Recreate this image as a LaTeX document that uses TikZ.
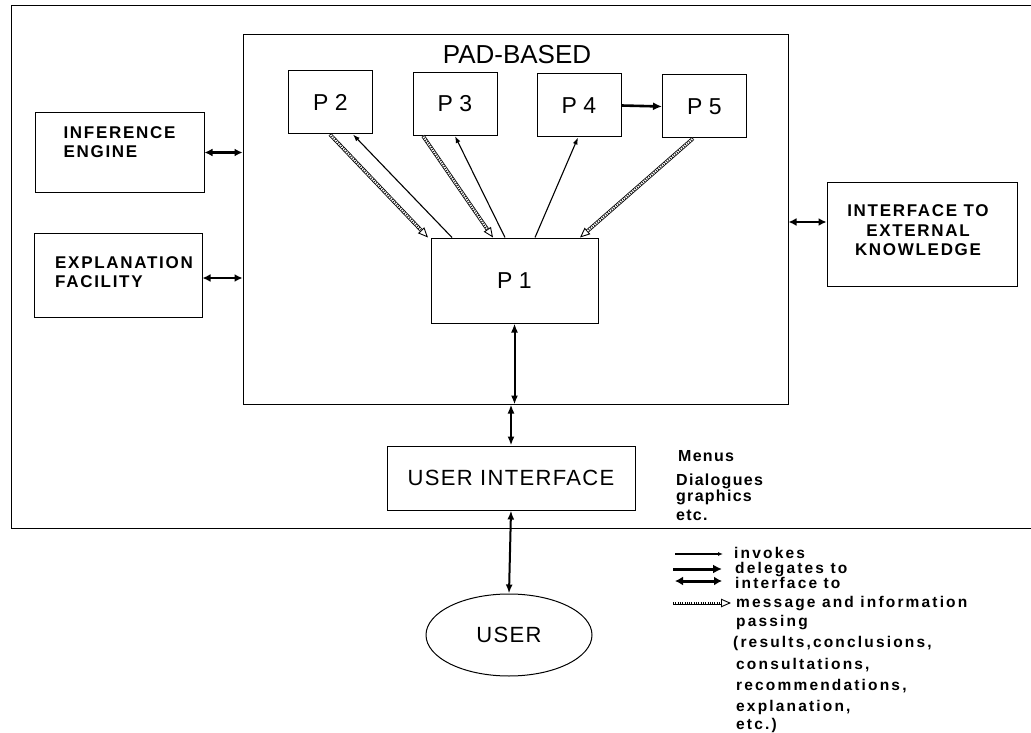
\documentclass[tikz,border=0pt]{standalone}
\usepackage{fontspec}
\setmainfont{Liberation Sans}
\newfontfamily\widefont{Liberation Sans}[LetterSpace=10]
\newfontfamily\legfont{Liberation Sans}[LetterSpace=14]
\newfontfamily\notefont{Liberation Sans}[LetterSpace=8]
\newfontfamily\boxfont{Liberation Sans}[LetterSpace=6]
\newfontfamily\pfont{Liberation Sans}[LetterSpace=28]
\usetikzlibrary{arrows.meta,shapes.geometric}

\begin{document}
\begin{tikzpicture}[x=1pt,y=-1pt,
  box/.style={draw,line width=1pt,inner sep=0pt,rectangle},
  pbox/.style={box,minimum width=84pt,minimum height=63pt,font=\pfont\fontsize{23}{26}\selectfont},
  caps/.style={inner sep=0pt,align=left,font=\widefont\bfseries\fontsize{17}{19}\selectfont},
  note/.style={inner sep=0pt,anchor=base west,font=\notefont\bfseries\fontsize{16}{18}\selectfont},
  leg/.style={inner sep=0pt,anchor=base west,font=\legfont\bfseries\fontsize{15.5}{18}\selectfont},
  frame/.style={line width=1pt},
  inv/.style={line width=1.1pt,-{Latex[length=7pt,width=5pt]}},
  del/.style={line width=2.6pt,-{Latex[length=9pt,width=8pt]}},
  ifc/.style={line width=2.4pt,{Latex[length=8pt,width=8pt]}-{Latex[length=8pt,width=8pt]}},
  vio/.style={line width=2pt,{Latex[length=9pt,width=7pt]}-{Latex[length=9pt,width=7pt]}},
  msg/.style={line width=3.6pt,-{Triangle[open,length=10pt,width=8.5pt,line width=0.9pt]},
    postaction={draw=white,line width=2pt,-,shorten >=10pt},
    postaction={draw=black,line width=2pt,-,dash pattern=on 0.7pt off 1.6pt,shorten >=10pt}}
]
\useasboundingbox (0,0) rectangle (1031,733);

% open outer frame
\coordinate (ftr) at (1031,6);
\coordinate (ftl) at (11,6);
\coordinate (fbl) at (11,528);
\coordinate (fbr) at (1031,528);
\draw[frame] (ftr) -- (ftl) -- (fbl) -- (fbr);

% PAD-based block
\node[box,minimum width=545pt,minimum height=369pt] (pad) at (515.5,219.5) {};
\node[inner sep=0pt,font=\fontsize{26}{30}\selectfont] (padlab) at (517,55) {PAD-BASED};

\node[pbox] (p2) at (330.5,102.5) {P2};
\node[pbox] (p3) at (455,104) {P3};
\node[pbox] (p4) at (579,105.5) {P4};
\node[pbox] (p5) at (704.5,106.5) {P5};
\node[box,minimum width=167pt,minimum height=85pt,font=\pfont\fontsize{23}{26}\selectfont] (p1) at (514.5,280.5) {P1};

% side modules
\node[box,minimum width=169pt,minimum height=79pt] (ie) at (119.5,152.5) {};
\node[caps] (ielab) at (119.5,142.5) {INFERENCE\\ENGINE};
\node[box,minimum width=168pt,minimum height=84pt] (ef) at (118,275) {};
\node[caps] (eflab) at (124,272.5) {EXPLANATION\\FACILITY};
\node[box,minimum width=190pt,minimum height=104pt] (ext) at (922,234) {};
\node[caps,align=center,font=\widefont\bfseries\fontsize{17}{19.5}\selectfont] (extlab) at (918,230.5)
  {INTERFACE TO\\EXTERNAL\\KNOWLEDGE};

% user side
\node[box,minimum width=248pt,minimum height=64pt,font=\boxfont\fontsize{22}{25}\selectfont] (ui) at (511,478) {USER INTERFACE};
\node[draw,ellipse,line width=1pt,inner sep=0pt,minimum width=166pt,minimum height=82pt,
      font=\boxfont\fontsize{22}{25}\selectfont] (user) at (509,635) {USER};

\node[note] (m1) at (678,461) {Menus};
\node[note] (m2) at (676,485) {Dialogues};
\node[note] (m3) at (676,501) {graphics};
\node[note] (m4) at (676,520) {etc.};

% links inside the PAD block
\draw[msg] ([xshift=-0.5pt]p2.south) -- ([xshift=-86.5pt]p1.north);
\draw[inv] ([xshift=-62.5pt]p1.north) -- ([xshift=22.5pt]p2.south);
\draw[msg] ([xshift=-32pt]p3.south) -- ([xshift=-21.5pt]p1.north);
\draw[inv] ([xshift=-9.5pt]p1.north) -- (p3.south);
\draw[inv] ([xshift=20.5pt]p1.north) -- ([xshift=-1pt]p4.south);
\draw[msg] ([xshift=-11.5pt]p5.south) -- ([xshift=65.5pt]p1.north);
\draw[del] (p4.east) -- (p5.west);

% interfaces
\draw[ifc] (ie.east) -- (ie.east -| pad.west);
\coordinate (efin) at ([yshift=-3pt]ef.east);
\draw[ifc] (efin) -- (efin -| pad.west);
\coordinate (extin) at ([yshift=12pt]ext.west);
\draw[ifc] (extin -| pad.east) -- (extin);
\draw[vio] (p1.south) -- (p1.south |- pad.south);
\draw[vio] (pad.south -| ui.north) -- (ui.north);
\draw[vio] (ui.south) -- (user.north);

% legend
\coordinate (la1) at (675,554); \coordinate (lb1) at (723,554);
\coordinate (la2) at (673,569); \coordinate (lb2) at (722,569);
\coordinate (la3) at (675,581); \coordinate (lb3) at (722,581);
\coordinate (la4) at (673,603); \coordinate (lb4) at (731,603);
\draw[line width=1.1pt,-{Latex[length=5pt,width=4pt]}] (la1) -- (lb1);
\draw[line width=3pt,-{Latex[length=9pt,width=9pt]}] (la2) -- (lb2);
\draw[line width=3pt,{Latex[length=8pt,width=9pt]}-{Latex[length=8pt,width=9pt]}] (la3) -- (lb3);
\draw[msg,line width=3pt] (la4) -- (lb4);

\node[leg] (l1) at (734,558) {invokes};
\node[leg] (l2) at (735,573) {delegates to};
\node[leg] (l3) at (735,588) {interface to};
\node[leg] (l4) at (736,607) {message and information};
\node[leg] (l5) at (736,626) {passing};
\node[leg] (l6) at (733,647) {(results,conclusions,};
\node[leg] (l7) at (736,669) {consultations,};
\node[leg] (l8) at (736,690) {recommendations,};
\node[leg] (l9) at (736,711) {explanation,};
\node[leg] (l10) at (736,729) {etc.)};
\end{tikzpicture}
\end{document}
